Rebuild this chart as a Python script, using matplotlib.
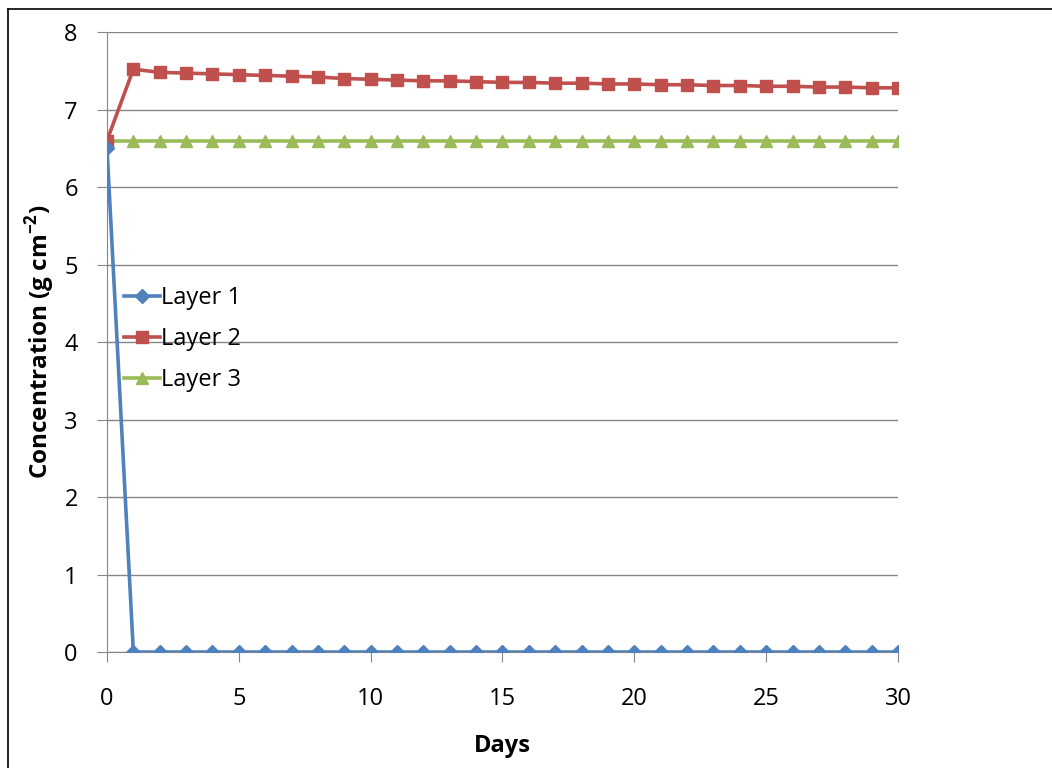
import matplotlib
matplotlib.use('Agg')
import matplotlib.pyplot as plt
from matplotlib.lines import Line2D

# Data (days 0..30)
days = list(range(31))
layer1 = [6.5] + [0.0] * 30
layer2 = [6.60, 7.52, 7.48, 7.47, 7.46, 7.45, 7.44, 7.43, 7.42, 7.40, 7.39,
          7.38, 7.37, 7.37, 7.36, 7.35, 7.35, 7.34, 7.34, 7.33, 7.33,
          7.32, 7.32, 7.31, 7.31, 7.30, 7.30, 7.29, 7.29, 7.28, 7.28]
layer3 = [6.6] * 31
labels = ['Layer 1', 'Layer 2', 'Layer 3']
xticks = [0, 5, 10, 15, 20, 25, 30]
yticks = [0, 1, 2, 3, 4, 5, 6, 7, 8]

plt.rcParams['font.family'] = ['Open Sans', 'DejaVu Sans']
plt.rcParams['mathtext.fontset'] = 'custom'
plt.rcParams['mathtext.rm'] = 'Open Sans'
plt.rcParams['mathtext.bf'] = 'Open Sans:bold'

fig = plt.figure(figsize=(10.52, 7.68), dpi=100)
ax = fig.add_axes([0.1017, 0.151, 0.7519, 0.8073])

# series
ax.plot(days, layer1, color='#4F81BD', lw=2.6, marker='D', ms=7, label=labels[0], zorder=5)
ax.plot(days, layer2, color='#C0504D', lw=2.6, marker='s', ms=8.5, label=labels[1], zorder=4)
ax.plot(days, layer3, color='#9BBB59', lw=2.6, marker='^', ms=8.5, label=labels[2], zorder=3)

ax.set_xlim(0, 30)
ax.set_ylim(0, 8)
ax.set_xticks(xticks)
ax.set_yticks(yticks)
ax.tick_params(labelsize=17, length=7, color='#868686')
ax.tick_params(axis='x', pad=18)
ax.tick_params(axis='y', pad=14)
ax.yaxis.grid(True, color='#868686', lw=1)
ax.set_axisbelow(True)
for s in ['top', 'right']:
    ax.spines[s].set_visible(False)
for s in ['left', 'bottom']:
    ax.spines[s].set_color('#868686')

ax.set_xlabel('Days', fontsize=17, fontweight='bold', labelpad=17)
ax.set_ylabel(r'Concentration (g cm$^{\mathbf{-2}}$)', fontsize=17.5, fontweight='bold', labelpad=5)

ax.legend(loc='upper left', bbox_to_anchor=(0.01, 0.605), frameon=False, fontsize=17,
          handlelength=1.5, handletextpad=0.05, labelspacing=0.72, borderaxespad=0)

# outer frame (top and left edges only)
fig.add_artist(Line2D([0.0076, 0.0076], [0, 0.988], color='black', lw=1.2, transform=fig.transFigure))
fig.add_artist(Line2D([0.0076, 1], [0.988, 0.988], color='black', lw=1.2, transform=fig.transFigure))

fig.savefig('out.png', dpi=100)
